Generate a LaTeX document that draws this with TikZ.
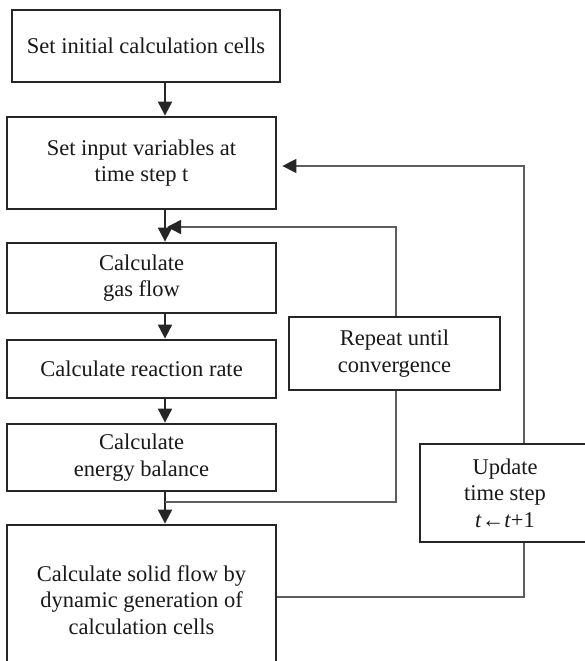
\documentclass[tikz,border=0pt]{standalone}
\usepackage{fontspec}
\setmainfont{Liberation Serif}
\usetikzlibrary{arrows.meta,calc}
\definecolor{boxcol}{HTML}{262626}
\definecolor{fbcol}{HTML}{5E5E5E}
\begin{document}
\begin{tikzpicture}[x=1pt,y=-1pt,
  box/.style={draw=boxcol, line width=2.8pt, align=center, inner sep=0pt,
    font=\fontsize{22.5}{26.5}\selectfont, text=black!90},
  mainarrow/.style={draw=boxcol, line width=2pt, -{Triangle[length=14pt,width=14pt]}},
  fbline/.style={draw=fbcol, line width=1.5pt},
  fbarrow/.style={fbline, -{Triangle[length=14pt,width=14pt,color=boxcol,fill=boxcol]}}
]
\clip (0,0) rectangle (585,661);
\fill[white] (0,0) rectangle (585,661);

\node[box, minimum width=268pt, minimum height=72pt] (init) at (146,46) {Set initial calculation cells};
\node[box, minimum width=269pt, minimum height=92pt] (input) at (141.5,163) {Set input variables at\\time step t};
\node[box, minimum width=269pt, minimum height=70pt] (gas) at (141.5,278) {Calculate\\gas flow};
\node[box, minimum width=269pt, minimum height=58pt] (react) at (141.5,369) {Calculate reaction rate};
\node[box, minimum width=269pt, minimum height=67pt] (energy) at (141.5,457.5) {Calculate\\energy balance};
\node[box, minimum width=269pt, minimum height=150pt] (solid) at (141.5,600) {Calculate solid flow by\\dynamic generation of\\calculation cells};
\node[box, minimum width=211pt, minimum height=73pt] (repeat) at (394.5,353.5) {Repeat until\\convergence};
\node[box, minimum width=170pt, minimum height=98pt] (update) at (505,493) {Update\\time step\\\textit{t}←\textit{t}+1};

\coordinate (colx) at (165,0);
\coordinate (j1) at (165,502);
\coordinate (r1) at (396,502);
\coordinate (r2) at (396,227);
\coordinate (r3) at (167,227);
\coordinate (u1) at (524,597);
\coordinate (u2) at (524,166);

\draw[mainarrow] (init.south -| colx) -- (input.north -| colx);
\draw[mainarrow] (input.south -| colx) -- (gas.north -| colx);
\draw[mainarrow] (gas.south -| colx) -- (react.north -| colx);
\draw[mainarrow] (react.south -| colx) -- (energy.north -| colx);
\draw[mainarrow] (energy.south -| colx) -- (solid.north -| colx);

\draw[fbline] (j1) -- (r1) -- (repeat.south -| r1);
\draw[fbarrow] (repeat.north -| r1) -- (r2) -- (r3);

\draw[fbline] (solid.east |- u1) -- (u1) -- (update.south -| u1);
\draw[fbarrow, shorten >=5pt] (update.north -| u1) -- (u2) -- (input.east |- u2);
\end{tikzpicture}
\end{document}
